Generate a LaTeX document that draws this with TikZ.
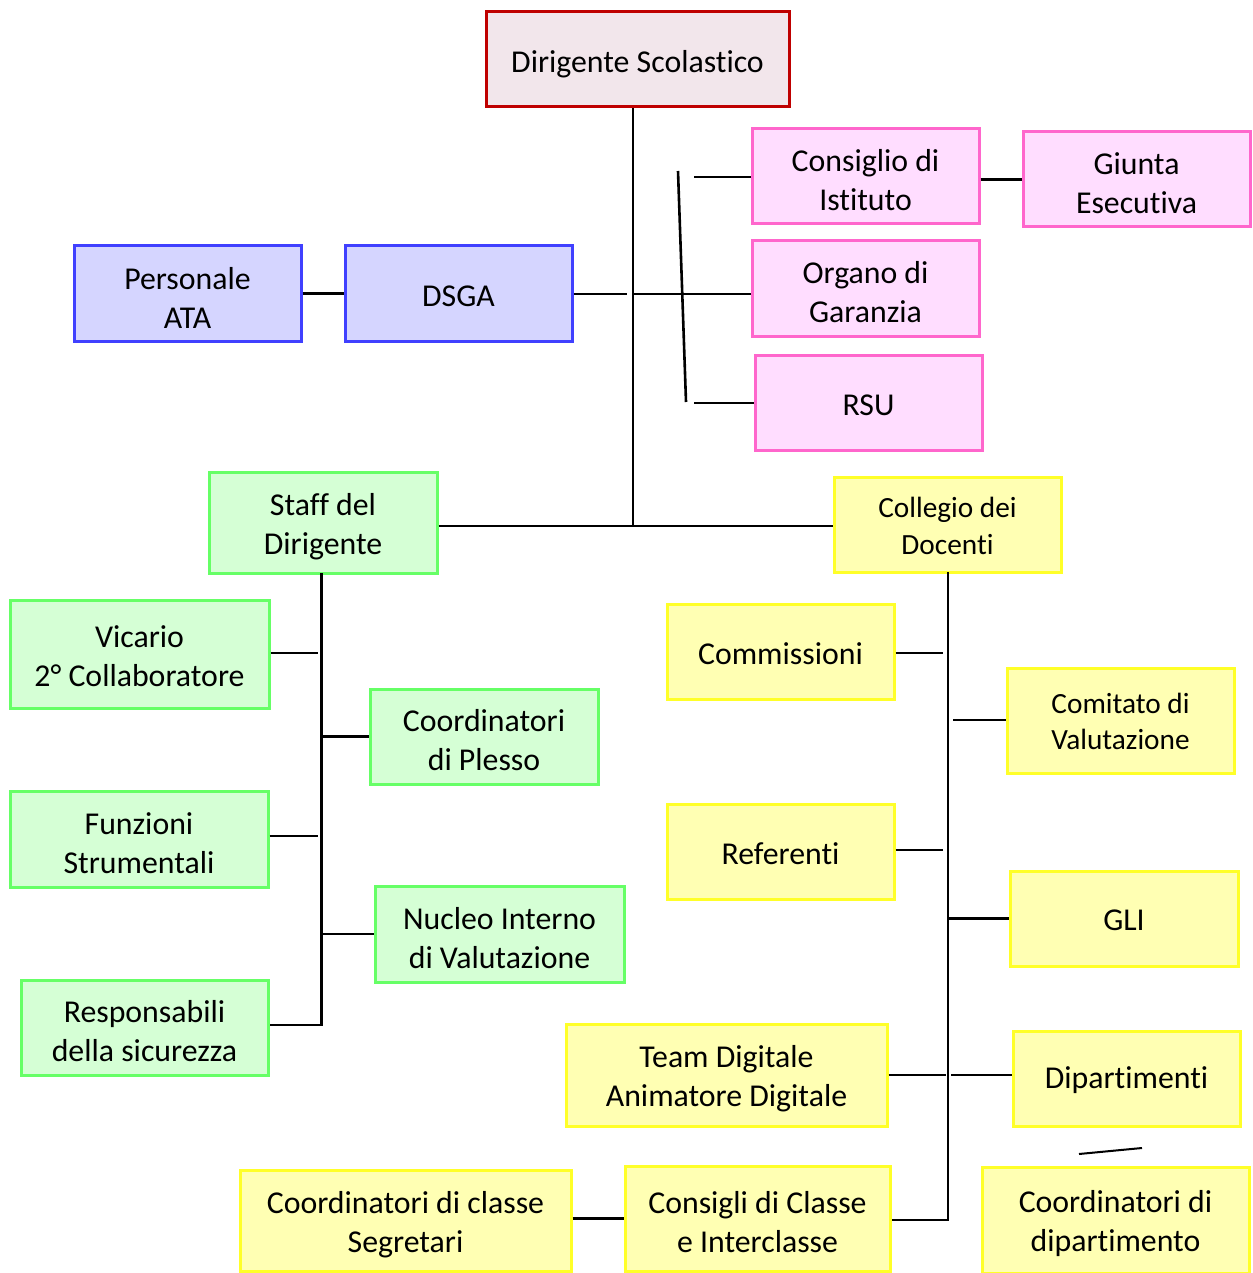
\documentclass[tikz,border=0pt]{standalone}
\usepackage{fontspec}
\setmainfont{Carlito}[Ligatures=NoCommon]
\begin{document}
\begin{tikzpicture}[x=1pt,y=-1pt,
  box/.style={draw, line width=3pt, inner sep=0pt},
  txt/.style={inner sep=0pt, align=center, font=\fontsize{31.8}{39}\selectfont},
  stxt/.style={inner sep=0pt, align=center, font=\fontsize{29.3}{36.5}\selectfont},
  redb/.style={box, draw=red!75!black, fill=dsfill},
  pinkb/.style={box, draw=pinkedge, fill=pinkfill},
  blueb/.style={box, draw=blueedge, fill=bluefill},
  greenb/.style={box, draw=greenedge, fill=greenfill},
  yellowb/.style={box, draw=yellowedge, fill=yellowfill},
  conn/.style={line width=2.6pt, black}]
\definecolor{dsfill}{RGB}{242,230,235}
\definecolor{pinkedge}{RGB}{255,102,204}
\definecolor{pinkfill}{RGB}{255,221,255}
\definecolor{blueedge}{RGB}{64,64,255}
\definecolor{bluefill}{RGB}{213,213,255}
\definecolor{greenedge}{RGB}{102,255,102}
\definecolor{greenfill}{RGB}{213,255,213}
\definecolor{yellowedge}{RGB}{255,255,40}
\definecolor{yellowfill}{RGB}{255,255,179}
\useasboundingbox (0,0) rectangle (1252,1273);
% boxes
\node[redb, minimum width=303pt, minimum height=95pt] (ds) at (637.5,59.5) {};
\node[pinkb, minimum width=227pt, minimum height=95pt] (ci) at (865.5,176.5) {};
\node[pinkb, minimum width=227pt, minimum height=95pt] (ge) at (1136.5,179.5) {};
\node[pinkb, minimum width=227pt, minimum height=95pt] (og) at (865.5,288.5) {};
\node[pinkb, minimum width=227pt, minimum height=95pt] (rsu) at (868.5,402.5) {};
\node[blueb, minimum width=227pt, minimum height=95pt] (ata) at (187.5,293.5) {};
\node[blueb, minimum width=227pt, minimum height=95pt] (dsga) at (458.5,293.5) {};
\node[greenb, minimum width=228pt, minimum height=101pt] (staff) at (323,522.5) {};
\node[yellowb, minimum width=227pt, minimum height=95pt] (cd) at (947.5,524.5) {};
\node[greenb, minimum width=259pt, minimum height=108pt] (vic) at (139.5,654) {};
\node[greenb, minimum width=228pt, minimum height=95pt] (cp) at (484,736.5) {};
\node[greenb, minimum width=258pt, minimum height=96pt] (fs) at (139,839) {};
\node[greenb, minimum width=249pt, minimum height=96pt] (niv) at (499.5,934) {};
\node[greenb, minimum width=247pt, minimum height=95pt] (rs) at (144.5,1027.5) {};
\node[yellowb, minimum width=227pt, minimum height=95pt] (com) at (780.5,651.5) {};
\node[yellowb, minimum width=227pt, minimum height=105pt] (cv) at (1120.5,720.5) {};
\node[yellowb, minimum width=227pt, minimum height=95pt] (ref) at (780.5,851.5) {};
\node[yellowb, minimum width=228pt, minimum height=95pt] (gli) at (1124,918.5) {};
\node[yellowb, minimum width=321pt, minimum height=102pt] (td) at (726.5,1075) {};
\node[yellowb, minimum width=227pt, minimum height=95pt] (dip) at (1126.5,1078.5) {};
\node[yellowb, minimum width=331pt, minimum height=101pt] (ccs) at (405.5,1220.5) {};
\node[yellowb, minimum width=265pt, minimum height=105pt] (cc) at (757.5,1218.5) {};
\node[yellowb, minimum width=267pt, minimum height=106pt] (cdip) at (1115.5,1220) {};
% texts
\node[txt] (tds) at ([yshift=-4.5pt]ds.center) {Dirigente Scolastico};
\node[txt] (tci) at ([yshift=-4pt]ci.center) {Consiglio di\\Istituto};
\node[txt] (tge) at ([yshift=-4pt]ge.center) {Giunta\\Esecutiva};
\node[txt] (tog) at ([yshift=-4pt]og.center) {Organo di\\Garanzia};
\node[txt] (trsu) at ([yshift=-3pt]rsu.center) {RSU};
\node[txt] (tata) at ([yshift=-4pt]ata.center) {Personale\\ATA};
\node[txt] (tdsga) at ([yshift=-3pt]dsga.center) {DSGA};
\node[txt] (tstaff) at ([yshift=-4pt]staff.center) {Staff del\\Dirigente};
\node[stxt] (tcd) at ([yshift=-1.5pt]cd.center) {Collegio dei\\Docenti};
\node[txt] (tvic) at ([yshift=-2pt]vic.center) {Vicario\\2° Collaboratore};
\node[txt] (tcp) at ([yshift=-4pt]cp.center) {Coordinatori\\di Plesso};
\node[txt] (tfs) at ([yshift=-4pt]fs.center) {Funzioni\\Strumentali};
\node[txt] (tniv) at ([yshift=-4pt]niv.center) {Nucleo Interno\\di Valutazione};
\node[txt] (trs) at ([yshift=-4pt]rs.center) {Responsabili\\della sicurezza};
\node[txt] (tcom) at ([yshift=-2pt]com.center) {Commissioni};
\node[stxt] (tcv) at ([yshift=-1pt]cv.center) {Comitato di\\Valutazione};
\node[txt] (tref) at ([yshift=-2pt]ref.center) {Referenti};
\node[txt] (tgli) at ([yshift=-2pt]gli.center) {GLI};
\node[txt] (ttd) at ([yshift=-4pt]td.center) {Team Digitale\\Animatore Digitale};
\node[txt] (tdip) at ([yshift=-2pt]dip.center) {Dipartimenti};
\node[txt] (tccs) at ([yshift=-4pt]ccs.center) {Coordinatori di classe\\Segretari};
\node[txt] (tcc) at ([yshift=-4pt]cc.center) {Consigli di Classe\\e Interclasse};
\node[txt] (tcdip) at ([yshift=-4pt]cdip.center) {Coordinatori di\\dipartimento};
% coordinates
\coordinate (hub) at (633,526);
\coordinate (dsgaA) at (627,294);
\coordinate (dsgaB) at (634,294);
\coordinate (slT) at (678,171);
\coordinate (slB) at (686,402);
\coordinate (ciS) at (694,177);
\coordinate (rsuS) at (694,403);
\coordinate (gtop) at (321.5,573);
\coordinate (gbot) at (321.5,1025);
\coordinate (ytop) at (948,572);
\coordinate (ybot) at (948,1220);
\coordinate (comS) at (943,653);
\coordinate (cvS) at (953,720);
\coordinate (refS) at (943,850);
\coordinate (tdS) at (946,1075);
\coordinate (dipS) at (951,1075);
\coordinate (vicS) at (318,653);
\coordinate (fsS) at (318,836);
\coordinate (dk1) at (1079,1154);
\coordinate (dk2) at (1142,1148);
% connectors
\draw[conn] (ds.south -| hub) -- (hub);
\draw[conn] (staff.east |- hub) -- (cd.west |- hub);
\draw[conn] (ata.east) -- (dsga.west);
\draw[conn] (dsga.east |- dsgaA) -- (dsgaA);
\draw[conn] (dsgaB) -- (og.west |- dsgaB);
\draw[conn] (slT) -- (slB);
\draw[conn] (ciS) -- (ci.west |- ciS);
\draw[conn] (rsuS) -- (rsu.west |- rsuS);
\draw[conn] (ci.east |- ge.west) -- (ge.west);
% green
\draw[conn] (gtop) -- (gbot) -- (rs.east |- gbot);
\draw[conn] (vic.east |- vicS) -- (vicS);
\draw[conn] (cp.west) -- (cp.west -| gtop);
\draw[conn] (fs.east |- fsS) -- (fsS);
\draw[conn] (niv.west) -- (niv.west -| gtop);
% yellow
\draw[conn] (ytop) -- (ybot) -- (cc.east |- ybot);
\draw[conn] (com.east |- comS) -- (comS);
\draw[conn] (cv.west |- cvS) -- (cvS);
\draw[conn] (ref.east |- refS) -- (refS);
\draw[conn] (gli.west) -- (gli.west -| ytop);
\draw[conn] (td.east |- tdS) -- (tdS);
\draw[conn] (dip.west |- dipS) -- (dipS);
\draw[conn] (ccs.east |- cc.west) -- (cc.west);
\draw[line width=2pt] (dk1) -- (dk2);
\end{tikzpicture}
\end{document}
